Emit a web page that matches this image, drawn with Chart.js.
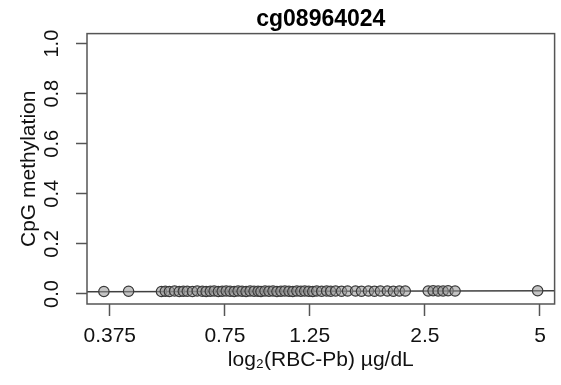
<!DOCTYPE html>
<html>
<head>
<meta charset="utf-8">
<script src="https://cdn.jsdelivr.net/npm/chart.js@4.4.1/dist/chart.umd.min.js"></script>
<style>
  html, body { margin: 0; padding: 0; background: #fff; }
  #wrap { width: 561px; height: 385px; }
</style>
</head>
<body>
<div id="wrap"><canvas id="myChart"></canvas></div>
<script>
// RBC-Pb values (µg/dL)
const leadValues = [
    0.362, 0.420, 0.512, 0.524, 0.537, 0.554, 0.570, 0.584, 0.598, 0.617,
    0.635, 0.655, 0.670, 0.687, 0.703, 0.721, 0.738, 0.756, 0.774, 0.793,
    0.812, 0.832, 0.852, 0.873, 0.894, 0.916, 0.932, 0.955, 0.978, 1.002,
    1.026, 1.051, 1.076, 1.103, 1.129, 1.157, 1.185, 1.213, 1.243, 1.273,
    1.304, 1.343, 1.384, 1.418, 1.461, 1.514, 1.570, 1.647, 1.707, 1.780,
    1.846, 1.913, 1.995, 2.068, 2.144, 2.222, 2.551, 2.628, 2.708, 2.790,
    2.875, 2.999, 4.930
]
const methylationValues = [
    0.010, 0.011, 0.010, 0.011, 0.010, 0.012, 0.010, 0.011, 0.011, 0.010,
    0.012, 0.011, 0.010, 0.011, 0.012, 0.010, 0.011, 0.012, 0.011, 0.010,
    0.012, 0.011, 0.010, 0.012, 0.011, 0.011, 0.010, 0.012, 0.011, 0.012,
    0.010, 0.011, 0.012, 0.011, 0.010, 0.012, 0.011, 0.012, 0.011, 0.010,
    0.012, 0.011, 0.012, 0.011, 0.012, 0.011, 0.012, 0.012, 0.011, 0.012,
    0.011, 0.012, 0.012, 0.011, 0.012, 0.012, 0.012, 0.013, 0.012, 0.012,
    0.013, 0.012, 0.013
]
const fitX = [0.327, 5.46]
const fitY = [0.009, 0.013]

const xTicks = [0.375, 0.75, 1.25, 2.5, 5]
const xTickLabels = ['0.375', '0.75', '1.25', '2.5', '5']
const yTicks = [0, 0.2, 0.4, 0.6, 0.8, 1.0]
const yTickLabels = ['0.0', '0.2', '0.4', '0.6', '0.8', '1.0']

const axisColor = '#555555'

const boxPlugin = {
    id: 'box',
    afterDatasetsDraw: (chart) => {
        const {ctx, chartArea} = chart
        ctx.save()
        ctx.strokeStyle = axisColor
        ctx.lineWidth = 1.5
        ctx.strokeRect(chartArea.left, chartArea.top, chartArea.right - chartArea.left, chartArea.bottom - chartArea.top)
        ctx.restore()
    }
}

const points = leadValues.map((x, i) => ({x: x, y: methylationValues[i]}))
const fitLine = fitX.map((x, i) => ({x: x, y: fitY[i]}))

const ctx = document.getElementById('myChart').getContext('2d')
const myChart = new Chart(ctx, {
    type: 'scatter',
    data: {
        datasets: [{
            type: 'line',
            data: fitLine,
            borderColor: '#404040',
            borderWidth: 1.5,
            pointRadius: 0,
            fill: false,
            order: 2
        }, {
            data: points,
            backgroundColor: 'rgba(150, 150, 150, 0.55)',
            borderColor: '#3a3a3a',
            borderWidth: 1.2,
            pointRadius: 5.2,
            order: 1
        }]
    },
    plugins: [boxPlugin],
    options: {
        responsive: true,
        maintainAspectRatio: false,
        animation: false,
        layout: {padding: {top: 0, right: 4, bottom: 0, left: 0}},
        plugins: {
            legend: {display: false},
            tooltip: {enabled: false},
            title: {
                display: true,
                fullSize: false,
                text: 'cg08964024',
                color: '#000',
                font: {family: 'Liberation Sans', size: 23, weight: 'bold', lineHeight: 1.2},
                padding: {top: 6, bottom: 0}
            }
        },
        scales: {
            x: {
                type: 'logarithmic',
                bounds: 'data',
                min: 0.327,
                max: 5.46,
                afterBuildTicks: (scale) => {
                    scale.ticks = xTicks.map(v => ({value: v}))
                },
                afterFit: (scale) => {
                    scale.height = 81
                },
                ticks: {
                    autoSkip: false,
                    maxRotation: 0,
                    color: '#111',
                    padding: 8,
                    font: {family: 'Liberation Sans', size: 21},
                    callback: (value) => xTickLabels[xTicks.indexOf(value)]
                },
                grid: {drawOnChartArea: false, drawTicks: true, tickLength: 12, color: axisColor, tickWidth: 1.5},
                border: {display: false},
                title: {
                    display: true,
                    text: 'log\u2082(RBC-Pb) \u00b5g/dL',
                    color: '#111',
                    font: {family: 'Liberation Sans', size: 21, lineHeight: 1.2},
                    padding: {top: 0, bottom: 12}
                }
            },
            y: {
                type: 'linear',
                min: -0.04,
                max: 1.04,
                afterBuildTicks: (scale) => {
                    scale.ticks = yTicks.map(v => ({value: v}))
                },
                afterFit: (scale) => {
                    scale.width = 87
                },
                ticks: {
                    autoSkip: false,
                    minRotation: 90,
                    maxRotation: 90,
                    crossAlign: 'center',
                    color: '#111',
                    padding: 10,
                    font: {family: 'Liberation Sans', size: 20},
                    callback: (value) => yTickLabels[yTicks.indexOf(value)]
                },
                grid: {drawOnChartArea: false, drawTicks: true, tickLength: 11, color: axisColor, tickWidth: 1.5},
                border: {display: false},
                title: {
                    display: true,
                    text: 'CpG methylation',
                    color: '#111',
                    font: {family: 'Liberation Sans', size: 21, lineHeight: 1.2},
                    padding: {top: 17, bottom: 0}
                }
            }
        }
    }
})
</script>
</body>
</html>
